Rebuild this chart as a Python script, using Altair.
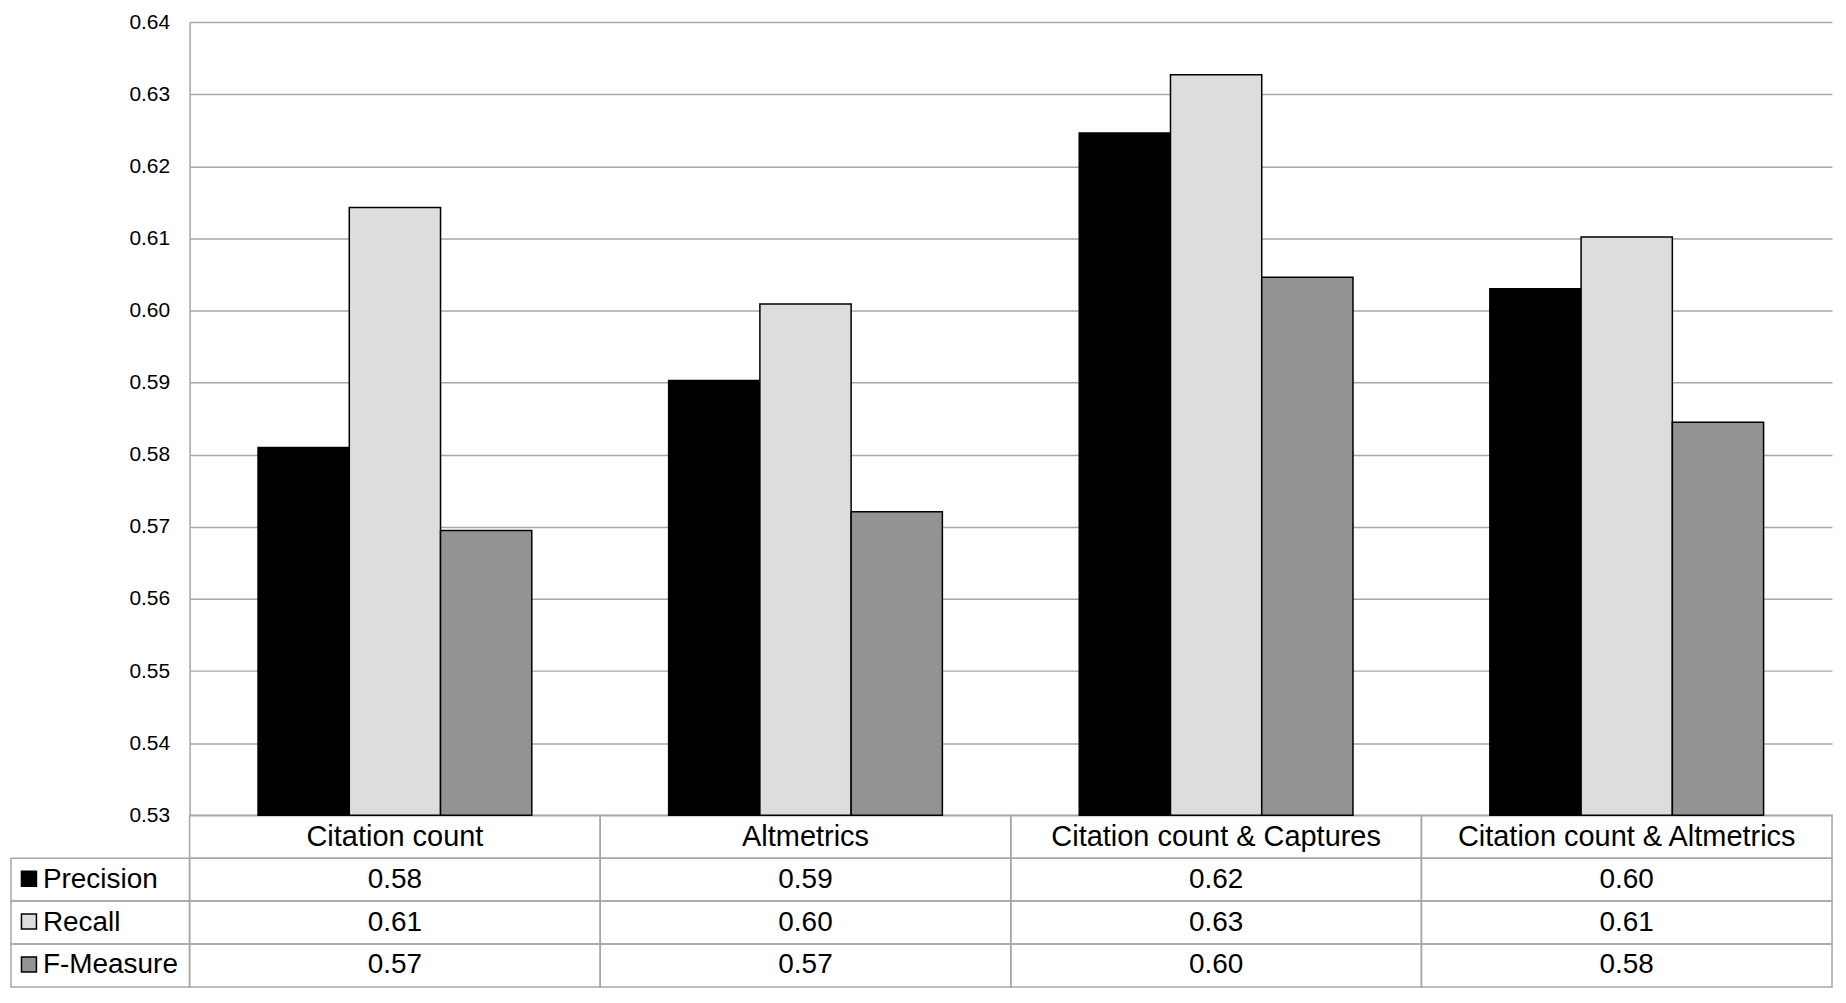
import altair as alt
import pandas as pd

categories = ["Citation count", "Altmetrics", "Citation count & Captures", "Citation count & Altmetrics"]
metrics = ["Precision", "Recall", "F-Measure"]
precision = [0.5810, 0.5903, 0.6246, 0.6030]
recall = [0.6143, 0.6009, 0.6327, 0.6102]
f_measure = [0.5695, 0.5721, 0.6046, 0.5845]
y_ticks = [0.53, 0.54, 0.55, 0.56, 0.57, 0.58, 0.59, 0.60, 0.61, 0.62, 0.63, 0.64]
metric_colors = ["#000000", "#dddddd", "#939393"]
table_rows = ["header"] + metrics

W = 1646
H_PLOT = 795
ROW_H = 43
H_TABLE = ROW_H * len(table_rows)
LABEL_COL = 179
GRID = "#a6a6a6"
FONT = "Liberation Sans"

series = {"Precision": precision, "Recall": recall, "F-Measure": f_measure}
df = pd.DataFrame(
    [{"category": c, "metric": m, "value": series[m][i]} for m in metrics for i, c in enumerate(categories)]
)
header_df = pd.DataFrame({"category": categories, "row": ["header"] * len(categories)})
label_df = pd.DataFrame({"metric": metrics})
cell_df = pd.DataFrame([{"category": c, "row": r} for r in table_rows for c in categories])

x_scale = alt.Scale(domain=categories, paddingInner=0, paddingOuter=0)
row_scale = alt.Scale(domain=table_rows, range=[H_PLOT, H_PLOT + H_TABLE], paddingInner=0, paddingOuter=0)
color_scale = alt.Scale(domain=metrics, range=metric_colors)

x_enc = alt.X("category:N", scale=x_scale, axis=None, sort=categories)

cells = alt.Chart(cell_df).mark_rect(stroke=GRID, strokeWidth=1.5, fillOpacity=0).encode(
    x=x_enc,
    y=alt.Y("row:N", scale=row_scale, axis=None, sort=table_rows),
)

label_cells = alt.Chart(label_df).mark_rect(stroke=GRID, strokeWidth=1.5, fillOpacity=0).encode(
    x=alt.value(-LABEL_COL),
    x2=alt.value(0),
    y=alt.Y("metric:N", scale=row_scale, axis=None, sort=table_rows),
)

bars = alt.Chart(df).mark_bar(stroke="black", strokeWidth=1.5).encode(
    x=x_enc,
    xOffset=alt.XOffset("metric:N", scale=alt.Scale(domain=metrics, paddingInner=0, paddingOuter=0.75), sort=metrics),
    y=alt.Y(
        "value:Q",
        scale=alt.Scale(domain=[0.53, 0.64], range=[H_PLOT, 0], zero=False, nice=False),
        axis=alt.Axis(
            values=y_ticks, format=".2f", title=None, grid=True, gridColor=GRID, gridWidth=1.5,
            domainColor=GRID, domainWidth=1.5, ticks=False, labelPadding=20, labelFontSize=21,
            labelFont=FONT, labelColor="black",
        ),
    ),
    y2=alt.datum(0.53),
    color=alt.Color("metric:N", scale=color_scale, legend=None),
)

header_text = alt.Chart(header_df).mark_text(fontSize=29, font=FONT, color="black").encode(
    x=x_enc,
    y=alt.Y("row:N", scale=row_scale, axis=None, sort=table_rows),
    text="category:N",
)

values_text = alt.Chart(df).mark_text(fontSize=28, font=FONT, color="black").encode(
    x=x_enc,
    y=alt.Y("metric:N", scale=row_scale, axis=None, sort=table_rows),
    text=alt.Text("value:Q", format=".2f"),
)

row_labels = alt.Chart(label_df).mark_text(fontSize=28, font=FONT, color="black", align="left").encode(
    x=alt.value(-147),
    y=alt.Y("metric:N", scale=row_scale, axis=None, sort=table_rows),
    text="metric:N",
)

swatches = alt.Chart(label_df).mark_square(size=225, stroke="black", strokeWidth=1.5, opacity=1).encode(
    x=alt.value(-161),
    y=alt.Y("metric:N", scale=row_scale, axis=None, sort=table_rows),
    yOffset=alt.value(-1),
    color=alt.Color("metric:N", scale=color_scale, legend=None),
)

chart = (
    alt.layer(cells, label_cells, bars, header_text, values_text, row_labels, swatches)
    .resolve_scale(y="independent")
    .properties(
        width=W,
        height=H_PLOT + H_TABLE,
        padding={"left": 2, "top": 2, "right": 5, "bottom": 1},
        background="white",
    )
    .configure_view(stroke=None)
)

chart.save("out.html", embed_options={"renderer": "svg", "actions": False})
